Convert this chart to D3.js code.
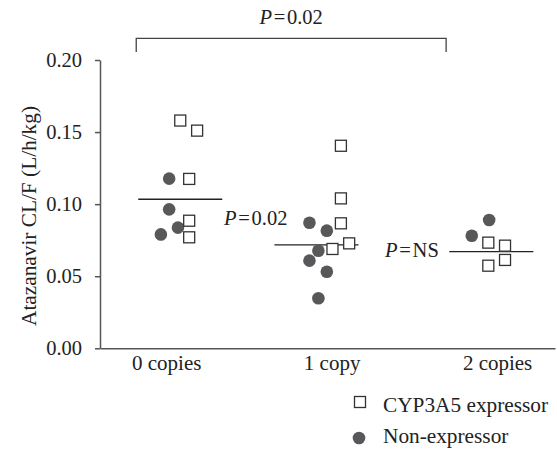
<!DOCTYPE html>
<meta charset="utf-8">
<script src="https://d3js.org/d3.v7.min.js"></script>
<style>
body { margin: 0; background: #fff; }
svg text { font-family: "Liberation Serif", "Times New Roman", serif; fill: #222; }
</style>
<div id="chart"></div>
<script>
// categories on the x axis
const categories = ["0 copies", "1 copy", "2 copies"];

// CYP3A5 expressors (open squares): value and horizontal spread, in category units
const expValue = [0.158, 0.151, 0.1175, 0.0885, 0.077,
                  0.1405, 0.104, 0.0867, 0.0689, 0.0728,
                  0.0733, 0.0712, 0.0573, 0.0613];
const expX     = [0.085, 0.187, 0.139, 0.139, 0.139,
                  1.056, 1.056, 1.056, 1.005, 1.106,
                  1.947, 2.048, 1.947, 2.048];

// non-expressors (filled circles)
const nonValue = [0.1177, 0.0964, 0.0837, 0.079,
                  0.0871, 0.0816, 0.0677, 0.0608, 0.0531, 0.0347,
                  0.089, 0.0781];
const nonX     = [0.018, 0.018, 0.071, -0.032,
                  0.866, 0.971, 0.920, 0.866, 0.971, 0.920,
                  1.952, 1.847];

// group means (horizontal bars) and where each bar is centred
const meanValue  = [0.1034, 0.0717, 0.067];
const meanCenter = [0.085, 0.908, 1.965];

const yTicks = [0, 0.05, 0.10, 0.15, 0.20];

const width = 557, height = 450;
const font = '"Liberation Serif", "Times New Roman", serif';
const svg = d3.select("#chart").append("svg")
    .attr("width", width)
    .attr("height", height)
    .attr("font-family", font);

const x = d3.scaleLinear().domain([-0.4, 2.35]).range([100, 555]);
const y = d3.scaleLinear().domain([0, 0.2]).range([348.3, 60]);

// y axis
const yAxis = svg.append("g")
    .attr("transform", `translate(${x(-0.4)},0)`)
    .call(d3.axisLeft(y).tickValues(yTicks).tickFormat(d3.format(".2f"))
        .tickSize(5).tickSizeOuter(0).tickPadding(13))
    .attr("font-family", font)
    .attr("font-size", 20.5);
yAxis.selectAll("path, line").attr("stroke", "#555").attr("stroke-width", 1.5);
yAxis.selectAll("text").attr("fill", "#222");

// x axis: plain line with category labels
const xAxis = svg.append("g")
    .attr("transform", `translate(0,${y(0)})`)
    .call(d3.axisBottom(x).tickValues([0, 1, 2]).tickFormat(i => categories[i])
        .tickSize(0).tickSizeOuter(0).tickPadding(7))
    .attr("font-family", font)
    .attr("font-size", 21);
xAxis.select("path").attr("stroke", "#555").attr("stroke-width", 1.5);
xAxis.selectAll("text").attr("fill", "#222");

// y label
svg.append("text")
    .attr("transform", `translate(36,216) rotate(-90)`)
    .attr("text-anchor", "middle")
    .style("font-size", "21.3px")
    .text("Atazanavir CL/F (L/h/kg)");

// mean bars
const halfBar = 0.254;
svg.selectAll(".mean")
  .data(meanValue)
  .join("line")
    .attr("x1", (d, i) => x(meanCenter[i] - halfBar))
    .attr("x2", (d, i) => x(meanCenter[i] + halfBar))
    .attr("y1", d => y(d))
    .attr("y2", d => y(d))
    .attr("stroke", "#222")
    .attr("stroke-width", 1.3);

// non-expressor circles
svg.selectAll(".non")
  .data(nonValue)
  .join("circle")
    .attr("cx", (d, i) => x(nonX[i]))
    .attr("cy", d => y(d))
    .attr("r", 6.3)
    .attr("fill", "#58585a");

// expressor squares
const sq = 11;
svg.selectAll(".exp")
  .data(expValue)
  .join("rect")
    .attr("x", (d, i) => x(expX[i]) - sq / 2)
    .attr("y", d => y(d) - sq / 2)
    .attr("width", sq)
    .attr("height", sq)
    .attr("fill", "#fff")
    .attr("stroke", "#333")
    .attr("stroke-width", 1.3);

// P value labels
function pLabel(g, rest) {
  g.append("tspan").style("font-style", "italic").text("P");
  g.append("tspan").text("\u200a=\u200a" + rest);
}
svg.append("text")
    .attr("x", x(0.35)).attr("y", y(0.0855))
    .style("font-size", "20.5px")
    .call(pLabel, "0.02");
svg.append("text")
    .attr("x", x(1.323)).attr("y", y(0.0635))
    .style("font-size", "20.5px")
    .call(pLabel, "NS");

// bracket between 0 copies and 2 copies
const bL = -0.181, bR = 1.692, bTop = 0.215, bFoot = 0.2055;
svg.append("path")
    .attr("d", d3.line()([[x(bL), y(bFoot)], [x(bL), y(bTop)], [x(bR), y(bTop)], [x(bR), y(bFoot)]]))
    .attr("fill", "none")
    .attr("stroke", "#444")
    .attr("stroke-width", 1.3);
svg.append("text")
    .attr("x", x((bL + bR) / 2)).attr("y", y(0.2249))
    .attr("text-anchor", "middle")
    .style("font-size", "20.5px")
    .call(pLabel, "0.02");

// legend
const legend = svg.append("g").attr("transform", "translate(360,402)");
legend.append("rect")
    .attr("x", -5.5).attr("y", -5.5).attr("width", 11).attr("height", 11)
    .attr("fill", "#fff").attr("stroke", "#333").attr("stroke-width", 1.3);
legend.append("text").attr("x", 23).attr("y", 10).style("font-size", "21.3px").text("CYP3A5 expressor");
legend.append("circle").attr("cx", -1).attr("cy", 36).attr("r", 6.3).attr("fill", "#58585a");
legend.append("text").attr("x", 23).attr("y", 41).style("font-size", "21.3px").text("Non-expressor");
</script>
